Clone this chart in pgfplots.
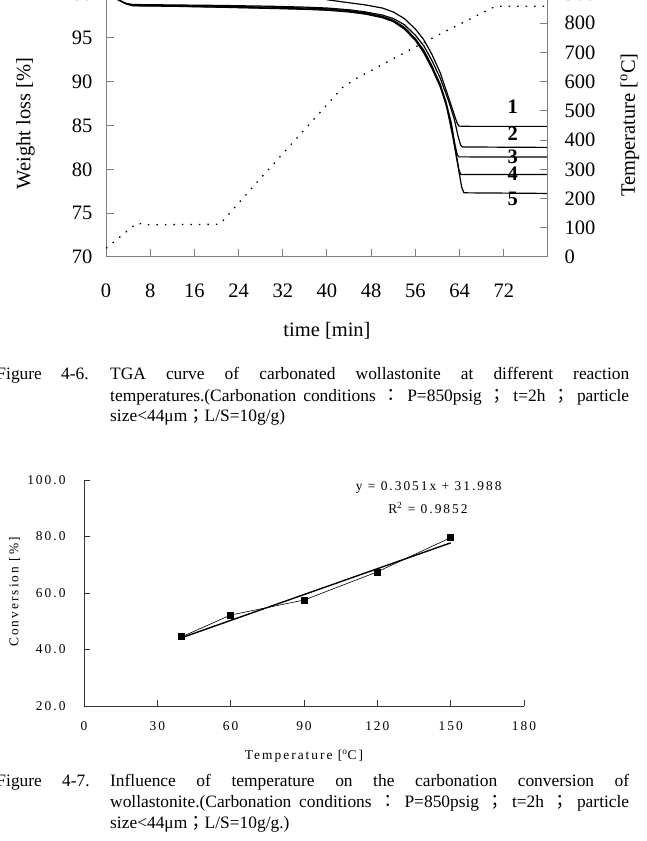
\documentclass[border=0pt]{standalone}
\usepackage{pgfplots}
\pgfplotsset{compat=1.18}
\usepackage{fontspec}
\setmainfont{Liberation Serif}
\newfontfamily\lsfont[LetterSpace=15]{Liberation Serif}
\newfontfamily\cjk{Noto Sans CJK TC}
\definecolor{axgray}{gray}{0.5}
\newcommand{\fa}{\fontsize{20.5}{24}\selectfont}
\newcommand{\fc}{\fontsize{17.4}{21}\selectfont}
\newcommand{\fb}{\lsfont\fontsize{13.4}{15}\selectfont}

\begin{document}
\begin{tikzpicture}[x=1pt,y=1pt]
\useasboundingbox (0,0) rectangle (646,841);
\clip (0,0) rectangle (646,841);

% ---------- TGA chart ----------
\begin{axis}[at={(106pt,584pt)}, anchor=south west, scale only axis,
  width=442pt, height=263pt,
  xmin=0, xmax=80, ymin=70, ymax=100,
  xtick={0,8,...,80}, xticklabels={0,8,16,24,32,40,48,56,64,72,{}},
  ytick={70,75,...,100}, yticklabels={70,75,80,85,90,95,100},
  xtick pos=bottom, ytick pos=left,
  tick align=inside, major tick length=8pt,
  axis line style={axgray, line width=1pt}, tick style={axgray, line width=1pt},
  tick label style={font=\fa},
  xticklabel style={yshift=-23pt}, yticklabel style={xshift=-10pt},
]
\addplot[black, line width=1.2pt] coordinates {(0,100.0)(5,100.1)(15,100.2)(25,100.2)(32,100.05)(36,99.8)(40.5,99.3)(44,99.0)(47,98.75)(50,98.4)(52,97.95)(54,97.2)(56,96.0)(57.5,94.8)(59,93.1)(60.5,91.0)(62,88.2)(63,86.3)(63.6,85.2)(63.9,84.93)(66,84.9)(80,84.9)};
\addplot[black, line width=1.2pt] coordinates {(0,100)(1.5,99.7)(2.2,99.35)(3.5,98.95)(4.8,98.8)(12,98.75)(20,98.7)(30,98.6)(36,98.5)(40,98.4)(44,98.2)(47,97.95)(50,97.6)(52,97.2)(54,96.5)(56,95.3)(57.5,94.1)(59,92.4)(60.5,90.4)(62,87.8)(63,85.8)(63.8,83.6)(64.2,82.75)(64.5,82.55)(80,82.5)};
\addplot[black, line width=1.2pt] coordinates {(0,100)(1.5,99.7)(2.2,99.35)(3.5,98.95)(4.8,98.72)(12,98.68)(20,98.6)(30,98.5)(36,98.4)(40,98.3)(44,98.1)(47,97.85)(50,97.45)(52,97.0)(54,96.2)(56,94.9)(57.5,93.6)(59,91.8)(60.5,89.6)(61.5,87.8)(62.5,85.3)(63.2,82.7)(63.6,81.6)(63.9,81.42)(80,81.4)};
\addplot[black, line width=1.2pt] coordinates {(0,100)(1.5,99.7)(2.2,99.35)(3.5,98.9)(4.8,98.65)(12,98.6)(20,98.5)(30,98.35)(36,98.25)(40,98.15)(44,97.95)(47,97.7)(50,97.3)(52,96.85)(54,96.0)(56,94.7)(57.5,93.3)(59,91.5)(60.5,89.4)(61.5,87.5)(62.5,84.8)(63.3,82.0)(63.9,79.9)(64.2,79.42)(80,79.4)};
\addplot[black, line width=1.2pt] coordinates {(0,100)(1.5,99.7)(2.2,99.35)(3.5,98.92)(4.8,98.7)(12,98.62)(20,98.52)(30,98.4)(36,98.3)(40,98.2)(44,98.0)(47,97.75)(50,97.35)(52,96.9)(54,96.1)(56,94.85)(57.5,93.5)(59,91.7)(60.5,89.7)(61.7,87.1)(62.9,83.3)(63.95,79.5)(64.4,77.9)(64.8,77.32)(80,77.25)};
\node[font=\fa\bfseries] at (axis cs:73.6,87.14) {1};
\node[font=\fa\bfseries] at (axis cs:73.6,84.11) {2};
\node[font=\fa\bfseries] at (axis cs:73.6,81.44) {3};
\node[font=\fa\bfseries] at (axis cs:73.6,79.55) {4};
\node[font=\fa\bfseries] at (axis cs:73.6,76.58) {5};
\end{axis}

\begin{axis}[at={(106pt,584pt)}, anchor=south west, scale only axis,
  width=442pt, height=263pt,
  xmin=0, xmax=80, ymin=0, ymax=900,
  axis y line*=right, axis x line=none,
  ytick={0,100,...,900}, yticklabels={0,100,200,300,400,500,600,700,800,900},
  tick align=inside, major tick length=8pt,
  axis line style={axgray, line width=1pt, -}, tick style={axgray, line width=1pt},
  tick label style={font=\fa},
  yticklabel style={xshift=13pt},
]
\addplot[black, line width=1.3pt, dash pattern=on 1.5pt off 7pt] coordinates {(0,30)(5.6,116)(7.5,110)(20.6,112)(27.3,255)(42.8,580)(45.4,612)(58.6,745)(67.1,826)(70.5,858)(80,858)};
\end{axis}

\node[rotate=90, font=\fa] at (25.5,717.7) {Weight loss [\%]};
\node[rotate=90, font=\fa] at (630,716) {Temperature [\textsuperscript{o}C]};
\node[font=\fa] at (327,510) {time [min]};

% ---------- caption 1 ----------
\begin{scope}[every node/.style={anchor=base west, inner sep=0pt, font=\fc}]
\node at (-3.7,461) {Figure};
\node at (61,461) {4-6.};
\node at (110,461) {\makebox[519pt][s]{TGA curve of carbonated wollastonite at different reaction}};
\node at (110,439.3) {\makebox[519pt][s]{temperatures.(Carbonation conditions {\cjk ：} P=850psig {\cjk ；} t=2h {\cjk ；} particle}};
\node at (110,419.3) {size<44μm{\cjk ；}L/S=10g/g)};
\end{scope}

% ---------- conversion chart ----------
\begin{axis}[at={(84pt,135pt)}, anchor=south west, scale only axis,
  width=440pt, height=226pt,
  xmin=0, xmax=180, ymin=20, ymax=100,
  axis x line*=bottom, axis y line*=left,
  xtick={0,30,...,180}, xticklabels={0,30,60,90,120,150,180},
  ytick={20,40,...,100}, yticklabels={20.0,40.0,60.0,80.0,100.0},
  tick align=inside, major tick length=6pt,
  axis line style={black!80, line width=0.8pt, -}, tick style={black!80, line width=0.8pt},
  tick label style={font=\fb},
  xticklabel style={yshift=-12pt}, yticklabel style={xshift=-15pt},
  clip=false,
]
\addplot[black, line width=1.4pt] coordinates {(40,44.19)(150,77.75)};
\addplot[black, line width=0.6pt, mark=square*, mark size=3pt, mark options={solid, fill=black}] coordinates {(40,44.5)(60,52.2)(90,57.5)(120,67.5)(150,79.6)};
\node[font=\fb] at (axis cs:141,97.3) {y = 0.3051x + 31.988};
\node[font=\fb] at (axis cs:140.7,90) {R\textsuperscript{2} = 0.9852};
\end{axis}
\node[rotate=90, font=\fb] at (14.5,249) {Conversion [\%]};
\node[font=\fb] at (304,85) {Temperature [\textsuperscript{o}C]};

% ---------- caption 2 ----------
\begin{scope}[every node/.style={anchor=base west, inner sep=0pt, font=\fc}]
\node at (-3.7,54.5) {Figure};
\node at (62,54.5) {4-7.};
\node at (110,54.5) {\makebox[519pt][s]{Influence of temperature on the carbonation conversion of}};
\node at (110,33.5) {\makebox[519pt][s]{wollastonite.(Carbonation conditions {\cjk ：} P=850psig {\cjk ；} t=2h {\cjk ；} particle}};
\node at (110,12.5) {size<44μm{\cjk ；}L/S=10g/g.)};
\end{scope}
\end{tikzpicture}
\end{document}
